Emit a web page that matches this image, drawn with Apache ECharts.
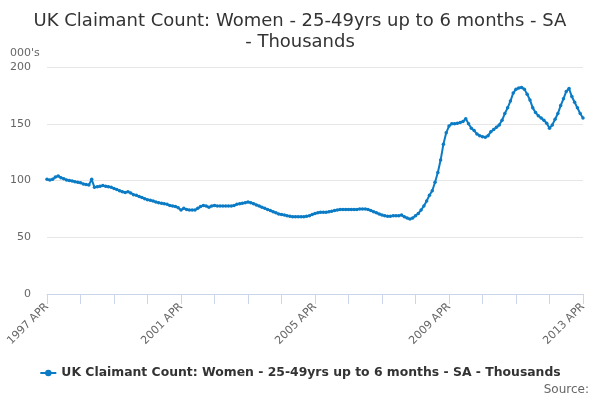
<!DOCTYPE html>
<html><head><meta charset="utf-8">
<script src="https://cdn.jsdelivr.net/npm/echarts@6/dist/echarts.min.js"></script>
<style>html,body{margin:0;padding:0;background:#fff}#c{width:600px;height:400px}</style>
</head><body><div id="c"></div>
<script>
var seriesName = 'UK Claimant Count: Women - 25-49yrs up to 6 months - SA - Thousands';
var monthNames = ['JAN','FEB','MAR','APR','MAY','JUN','JUL','AUG','SEP','OCT','NOV','DEC'];
var startYear = 1997, startMonth = 3, monthCount = 193;
var yTicks = [0, 50, 100, 150, 200];
var values = [
 101, 100.5, 101, 103, 104, 102.5, 101.5, 100.5, 100, 99.5, 99, 98.5,
 98, 97, 96.5, 96, 101, 94, 94.5, 95, 95.5, 95, 94.5, 94,
 93, 92, 91, 90, 89.5, 90, 89, 87.5, 87, 86, 85, 84,
 83, 82.5, 82, 81, 80.5, 80, 79.5, 79, 78, 77.5, 77, 76,
 74, 75.5, 74.5, 74, 74, 74, 75.5, 77, 78, 77.5, 76.5, 77.5,
 78, 77.5, 77.5, 77.5, 77.5, 77.5, 77.5, 78, 79, 79.5, 80, 80.5,
 81, 80.5, 79.5, 78.5, 77.5, 76.5, 75.5, 74.5, 73.5, 72.5, 71.5, 70.5,
 70, 69.5, 69, 68.5, 68, 68, 68, 68, 68, 68.5, 69, 70,
 71, 71.5, 72, 72, 72, 72.5, 73, 73.5, 74, 74.5, 74.5, 74.5,
 74.5, 74.5, 74.5, 74.5, 75, 75, 75, 74.5, 73.5, 72.5, 71.5, 70.5,
 69.5, 69, 68.5, 68.5, 69, 69, 69, 69.5, 68, 67, 66, 67,
 69, 71, 74, 77.5, 82, 87, 91, 98.5, 107, 118, 132, 142,
 148, 150, 150, 150.5, 151, 152, 154.5, 150, 146, 144, 141, 139.5,
 138.5, 138, 139.5, 143, 145, 147, 149, 153, 159, 164, 170, 177,
 180.5, 181.5, 182, 180.5, 176, 171, 164, 160, 157, 155, 153, 150.5,
 146, 149, 154, 159, 166, 172, 178.5, 181, 174, 169, 164, 159,
 155
];
var categories = [];
for (var i = 0; i < monthCount; i++) {
  var m = startMonth + i;
  categories.push((startYear + Math.floor(m / 12)) + ' ' + monthNames[m % 12]);
}
var chart = echarts.init(document.getElementById('c'));
chart.setOption({
  animation: false,
  textStyle: {fontFamily: 'DejaVu Sans'},
  title: {
    text: 'UK Claimant Count: Women - 25-49yrs up to 6 months - SA\n- Thousands',
    left: 'center', top: 6,
    textStyle: {fontSize: 18, fontWeight: 'normal', color: '#333', lineHeight: 21, fontFamily: 'DejaVu Sans'}
  },
  graphic: [
    {type: 'text', left: 10, top: 48, style: {text: "000's", fontSize: 11, fill: '#666', fontFamily: 'DejaVu Sans'}},
    {type: 'text', right: 11, top: 384, style: {text: 'Source:', fontSize: 12, fill: '#666', fontFamily: 'DejaVu Sans'}}
  ],
  legend: {
    bottom: 16, left: 'center', itemWidth: 16, itemHeight: 8, itemGap: 5,
    textStyle: {fontSize: 12.4, fontWeight: 'bold', color: '#333', fontFamily: 'DejaVu Sans'},
    data: [seriesName]
  },
  grid: {left: 47, right: 17, top: 67, bottom: 106},
  xAxis: {
    type: 'category', data: categories, boundaryGap: false,
    axisLine: {lineStyle: {color: '#ccd6eb'}},
    axisTick: {interval: 11, length: 10, lineStyle: {color: '#ccd6eb'}},
    axisLabel: {interval: 47, rotate: 45, color: '#666', fontSize: 11, margin: 11},
    splitLine: {show: false}
  },
  yAxis: {
    type: 'value', min: yTicks[0], max: yTicks[yTicks.length - 1], interval: 50,
    axisLine: {show: false}, axisTick: {show: false},
    axisLabel: {color: '#666', fontSize: 11, margin: 16},
    splitLine: {lineStyle: {color: '#e6e6e6'}}
  },
  series: [{
    name: seriesName, type: 'line', data: values,
    symbol: 'circle', symbolSize: 3.5, showSymbol: true, showAllSymbol: true,
    lineStyle: {color: '#0a7bc4', width: 2},
    itemStyle: {color: '#0a7bc4'}
  }]
});
</script></body></html>
